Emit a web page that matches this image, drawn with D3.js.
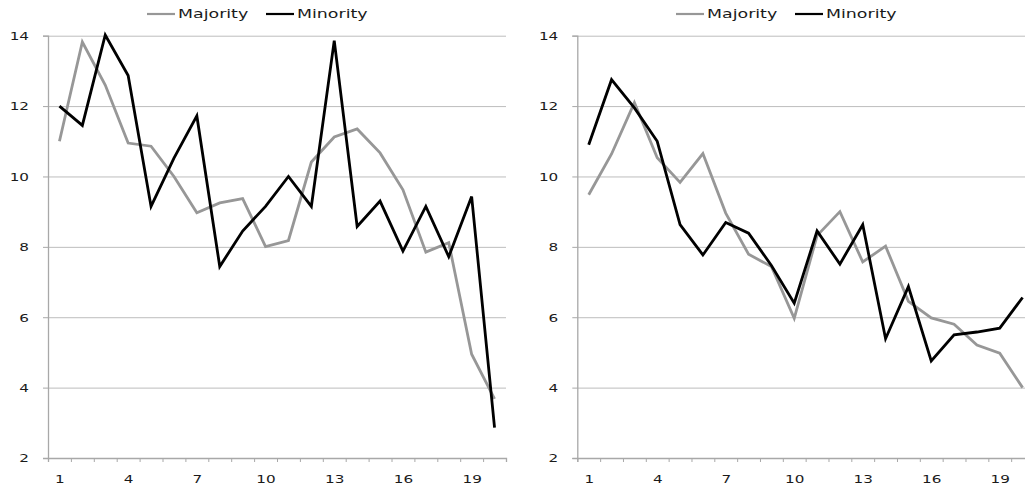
<!DOCTYPE html>
<html>
<head>
<meta charset="utf-8">
<script src="https://cdn.jsdelivr.net/npm/d3@7"></script>
<style>
  html, body { margin: 0; padding: 0; background: #fff; overflow: hidden; }
  svg { display: block; }
  text { font-family: "DejaVu Sans", Verdana, sans-serif; fill: #1a1a1a; }
</style>
</head>
<body>
<svg id="chart" width="1025" height="489"></svg>
<script>
// ---- Data ----
const categories = d3.range(1, 21);
const xTickLabels = [1, 4, 7, 10, 13, 16, 19];
const yTickValues = [2, 4, 6, 8, 10, 12, 14];
const seriesNames = ["Majority", "Minority"];

const leftMajority = [11.0, 13.82, 12.6, 10.95, 10.86, 10.0, 8.97, 9.25, 9.37, 8.01, 8.18, 10.41, 11.12, 11.35, 10.67, 9.62, 7.85, 8.12, 4.95, 3.68];
const leftMinority = [12.0, 11.45, 14.02, 12.87, 9.15, 10.52, 11.72, 7.44, 8.45, 9.15, 10.0, 9.15, 13.86, 8.58, 9.3, 7.88, 9.15, 7.72, 9.43, 2.86];

const rightMajority = [9.48, 10.64, 12.1, 10.53, 9.83, 10.65, 8.96, 7.79, 7.44, 5.97, 8.32, 9.0, 7.57, 8.02, 6.45, 5.98, 5.8, 5.21, 4.98, 4.0];
const rightMinority = [10.9, 12.75, 11.95, 11.0, 8.63, 7.77, 8.69, 8.39, 7.47, 6.4, 8.45, 7.51, 8.63, 5.39, 6.87, 4.76, 5.5, 5.58, 5.69, 6.56];

// ---- Styling ----
const colors = { Majority: "#979797", Minority: "#000000" };
const stretch = 1.45;

const svg = d3.select("#chart");

function drawChart(cfg, majority, minority) {
  const g = svg.append("g");
  const x = d3.scaleLinear().domain([0.5, 20.5]).range([cfg.x0, cfg.x1]);
  const y = d3.scaleLinear().domain([2, 14]).range([458, 35.7]);

  // gridlines
  g.append("g")
    .attr("transform", `translate(${cfg.x0},0)`)
    .call(d3.axisRight(y).tickValues(yTickValues.filter(v => v > 2)).tickSize(cfg.x1 - cfg.x0).tickFormat(""))
    .call(a => a.select(".domain").remove())
    .call(a => a.selectAll("line").attr("stroke", "#bdbdbd").attr("stroke-width", 1));

  // y axis
  g.append("g")
    .attr("transform", `translate(${cfg.x0},0)`)
    .call(d3.axisLeft(y).tickValues(yTickValues).tickSize(5).tickFormat(d3.format("d")))
    .call(a => a.select(".domain").attr("stroke", "#a8a8a8").attr("stroke-width", 1.3))
    .call(a => a.selectAll("line").attr("stroke", "#a8a8a8"))
    .call(a => a.selectAll("text")
      .attr("x", 0).attr("dy", "0.36em")
      .attr("transform", `translate(-19,0) scale(${stretch},1)`)
      .style("font-size", "10.5px").style("fill", "#1a1a1a"));

  // x axis: tick marks at category boundaries
  g.append("g")
    .attr("transform", "translate(0,458)")
    .call(d3.axisBottom(x).tickValues(d3.range(0.5, 21, 1)).tickSize(4).tickFormat(""))
    .call(a => a.select(".domain").attr("stroke", "#a8a8a8").attr("stroke-width", 1.3))
    .call(a => a.selectAll("line").attr("stroke", "#a8a8a8"));

  // x axis labels
  g.append("g")
    .attr("transform", "translate(0,458)")
    .call(d3.axisBottom(x).tickValues(xTickLabels).tickSize(0).tickFormat(d3.format("d")))
    .call(a => a.select(".domain").remove())
    .call(a => a.selectAll("text")
      .attr("y", 0).attr("dy", 0)
      .attr("transform", `translate(0,25) scale(${stretch},1)`)
      .style("font-size", "10.5px").style("fill", "#1a1a1a"));

  const line = d3.line().x((d, i) => x(categories[i])).y(d => y(d));
  const series = [
    { name: "Majority", values: majority },
    { name: "Minority", values: minority }
  ];
  g.selectAll("path.series").data(series).join("path")
    .attr("class", "series")
    .attr("fill", "none")
    .attr("stroke", d => colors[d.name])
    .attr("stroke-width", 2.8)
    .attr("stroke-linejoin", "miter")
    .attr("d", d => line(d.values));

  // legend
  const leg = g.selectAll("g.leg").data(seriesNames).join("g")
    .attr("class", "leg")
    .attr("transform", (d, i) => `translate(${cfg.legX[i]},0)`);
  leg.append("line")
    .attr("x1", 0).attr("x2", 28).attr("y1", 14).attr("y2", 14)
    .attr("stroke", d => colors[d]).attr("stroke-width", 2.2);
  leg.append("text")
    .attr("transform", `translate(31,18) scale(${stretch},1)`)
    .style("font-size", "12px")
    .text(d => d);
}

drawChart({ x0: 48, x1: 506, legX: [147, 266] }, leftMajority, leftMinority);
drawChart({ x0: 577.3, x1: 1034, legX: [676, 795] }, rightMajority, rightMinority);
</script>
</body>
</html>
